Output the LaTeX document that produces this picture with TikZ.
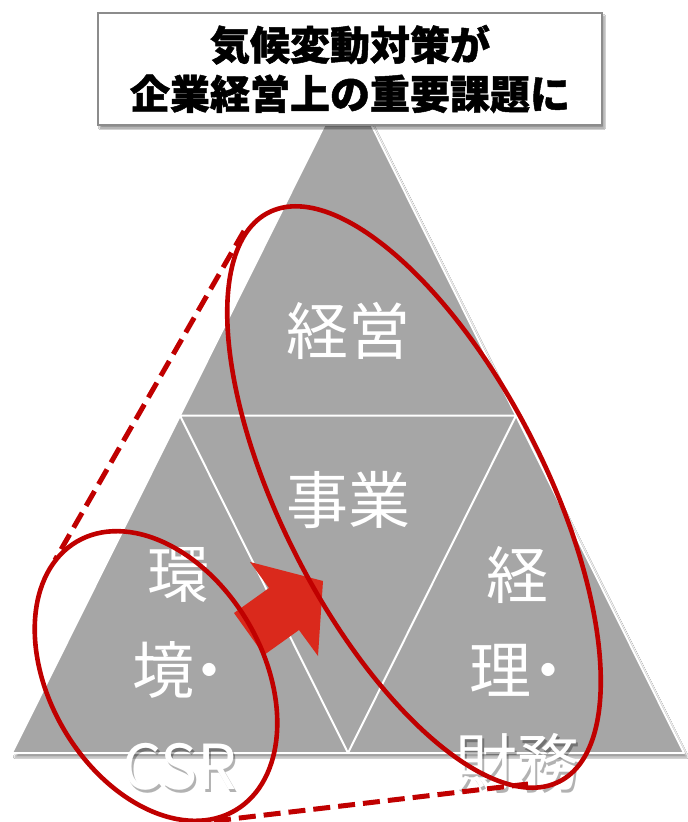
\documentclass[tikz,border=0pt]{standalone}
\usepackage{fontspec}
\newfontfamily\jp[BoldFeatures={FakeBold=1.2}]{Noto Sans CJK JP}
\usetikzlibrary{shapes.geometric,shadows.blur}
\definecolor{trigray}{HTML}{A6A6A6}
\definecolor{ered}{HTML}{C00000}
\definecolor{ared}{HTML}{DA291C}
\definecolor{boxline}{HTML}{8C8C8C}
\tikzset{
  bigtext/.style={text=white, inner sep=0pt, font=\jp\fontsize{62}{62}\selectfont},
  shadowtext/.style={text=black, opacity=0.3, inner sep=0pt, font=\jp\fontsize{62}{62}\selectfont},
  redring/.style={draw=ered, line width=4.6pt, ellipse, inner sep=0pt},
  redlink/.style={draw=ered, line width=5pt, dash pattern=on 17pt off 8pt},
  titlebox/.style={draw=boxline, line width=1.8pt, fill=white, minimum width=504pt, minimum height=112pt,
    align=center, inner sep=0pt, font=\jp\bfseries\fontsize{40}{49}\selectfont,
    blur shadow={shadow xshift=2pt, shadow yshift=-3pt, shadow blur steps=6, shadow opacity=45}},
  whiteedge/.style={draw=white, line width=2pt, line join=round}
}
\begin{document}
\begin{tikzpicture}[x=1pt,y=-1pt]
\useasboundingbox (0,0) rectangle (688,822);
\fill[white] (0,0) rectangle (688,822);
% pyramid
\coordinate (top) at (348,78);
\coordinate (bl) at (12,753);
\coordinate (br) at (684,753);
\coordinate (ml) at (180,415.5);
\coordinate (mr) at (516,415.5);
\coordinate (mb) at (348,753);
\path[fill=trigray, whiteedge, blur shadow={shadow xshift=3pt, shadow yshift=-4pt, shadow blur steps=6, shadow opacity=40}]
  (top) -- (br) -- (bl) -- cycle;
\draw[whiteedge] (ml) -- (mr) -- (mb) -- cycle;
% texts
\node[bigtext] (keiei) at (348,331) {経営};
\node[bigtext] (jigyo) at (348,500) {事業};
\node[bigtext] (kan) at (178,575) {環};
\node[bigtext, anchor=west] (kyo) at (132,670) {境\kern-16pt・};
\node[shadowtext] at (182,770) {CSR};
\node[bigtext] (csr) at (180,767) {CSR};
\node[bigtext] (kei) at (517,575) {経};
\node[bigtext, anchor=west] (ri) at (469,670) {理\kern-14pt・};
\node[shadowtext] at (519,765) {財務};
\node[bigtext] (zaimu) at (517,762) {財務};
% arrow
\fill[ared] (234,613) -- (269,588) -- (250,562) -- (323,581) -- (318,656) -- (299,630) -- (264,655) -- cycle;
% rings
\node[redring, minimum width=639pt, minimum height=263pt, rotate=-62.9] (bigring) at (414,497) {};
\node[redring, minimum width=312pt, minimum height=213pt, rotate=-59.4] (smallring) at (156,676) {};
% dashed links
\coordinate (d1a) at (244,231);
\coordinate (d1b) at (55,560);
\coordinate (d2a) at (214,821);
\coordinate (d2b) at (528,784);
\draw[redlink] (d1a) -- (d1b);
\draw[redlink] (d2a) -- (d2b);
% title
\node[titlebox] (title) at (350,69) {気候変動対策が\\企業経営上の重要課題に};
\end{tikzpicture}
\end{document}
